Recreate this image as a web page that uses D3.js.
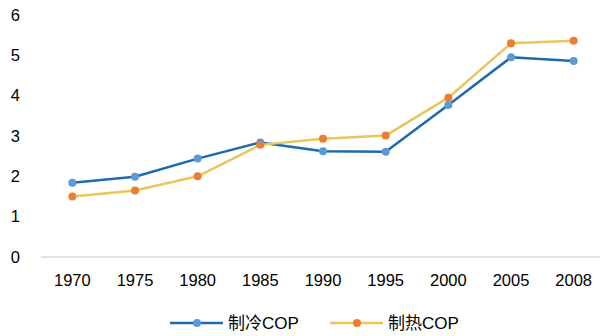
<!DOCTYPE html>
<html>
<head>
<meta charset="utf-8">
<script src="https://cdn.jsdelivr.net/npm/d3@7"></script>
<style>
  html, body { margin: 0; padding: 0; background: #fff; }
  svg { display: block; }
  text { font-family: "Liberation Sans", Arial, "Noto Sans CJK SC", sans-serif; fill: #000; }
</style>
</head>
<body>
<svg id="chart" width="600" height="336"></svg>
<script>
// Years along the x axis
const years = ["1970", "1975", "1980", "1985", "1990", "1995", "2000", "2005", "2008"];
// Cooling COP per year
const coolingCOP = [1.84, 1.99, 2.44, 2.84, 2.62, 2.61, 3.77, 4.95, 4.86];
// Heating COP per year
const heatingCOP = [1.50, 1.65, 2.00, 2.78, 2.93, 3.01, 3.95, 5.30, 5.36];
// Y axis ticks
const yTicks = [0, 1, 2, 3, 4, 5, 6];
const seriesNames = ["制冷COP", "制热COP"];

const svg = d3.select("#chart");

const x = d3.scaleBand().domain(years).range([41, 605]);
const y = d3.scaleLinear().domain([0, 6]).range([257, 15]);

// Baseline axis line
svg.append("line")
  .attr("x1", 41).attr("x2", 605)
  .attr("y1", y(0)).attr("y2", y(0))
  .attr("stroke", "#d9d9d9").attr("stroke-width", 1.5);

// Y tick labels
svg.append("g").selectAll("text")
  .data(yTicks).join("text")
  .attr("x", 20).attr("y", d => y(d))
  .attr("dy", "0.35em")
  .attr("text-anchor", "end")
  .attr("font-size", 16.5)
  .text(d => d);

// X tick labels
svg.append("g").selectAll("text")
  .data(years).join("text")
  .attr("x", d => x(d) + x.bandwidth() / 2)
  .attr("y", 280)
  .attr("dy", "0.35em")
  .attr("text-anchor", "middle")
  .attr("font-size", 16.5)
  .text(d => d);

const series = [
  { name: seriesNames[0], values: coolingCOP, line: "#1f6aa8", marker: "#5b9bd5" },
  { name: seriesNames[1], values: heatingCOP, line: "#e9c65c", marker: "#ed7d31" }
];

const lineGen = d3.line()
  .x((d, i) => x(years[i]) + x.bandwidth() / 2)
  .y(d => y(d));

series.forEach(s => {
  svg.append("path")
    .datum(s.values)
    .attr("d", lineGen)
    .attr("fill", "none")
    .attr("stroke", s.line)
    .attr("stroke-width", 2.5)
    .attr("stroke-linejoin", "round");
});
series.forEach(s => {
  svg.append("g").selectAll("circle")
    .data(s.values).join("circle")
    .attr("cx", (d, i) => x(years[i]) + x.bandwidth() / 2)
    .attr("cy", d => y(d))
    .attr("r", 4)
    .attr("fill", s.marker);
});

// Legend
const legendX = [170, 330];
const legend = svg.append("g");
series.forEach((s, i) => {
  const g = legend.append("g").attr("transform", `translate(${legendX[i]},323)`);
  g.append("line").attr("x1", 0).attr("x2", 53).attr("y1", 0).attr("y2", 0)
    .attr("stroke", s.line).attr("stroke-width", 2.5);
  g.append("circle").attr("cx", 27).attr("cy", 0).attr("r", 4).attr("fill", s.marker);
  g.append("text").attr("x", 58).attr("y", 0).attr("dy", "0.35em")
    .attr("font-size", 17).text(s.name);
});
</script>
</body>
</html>
